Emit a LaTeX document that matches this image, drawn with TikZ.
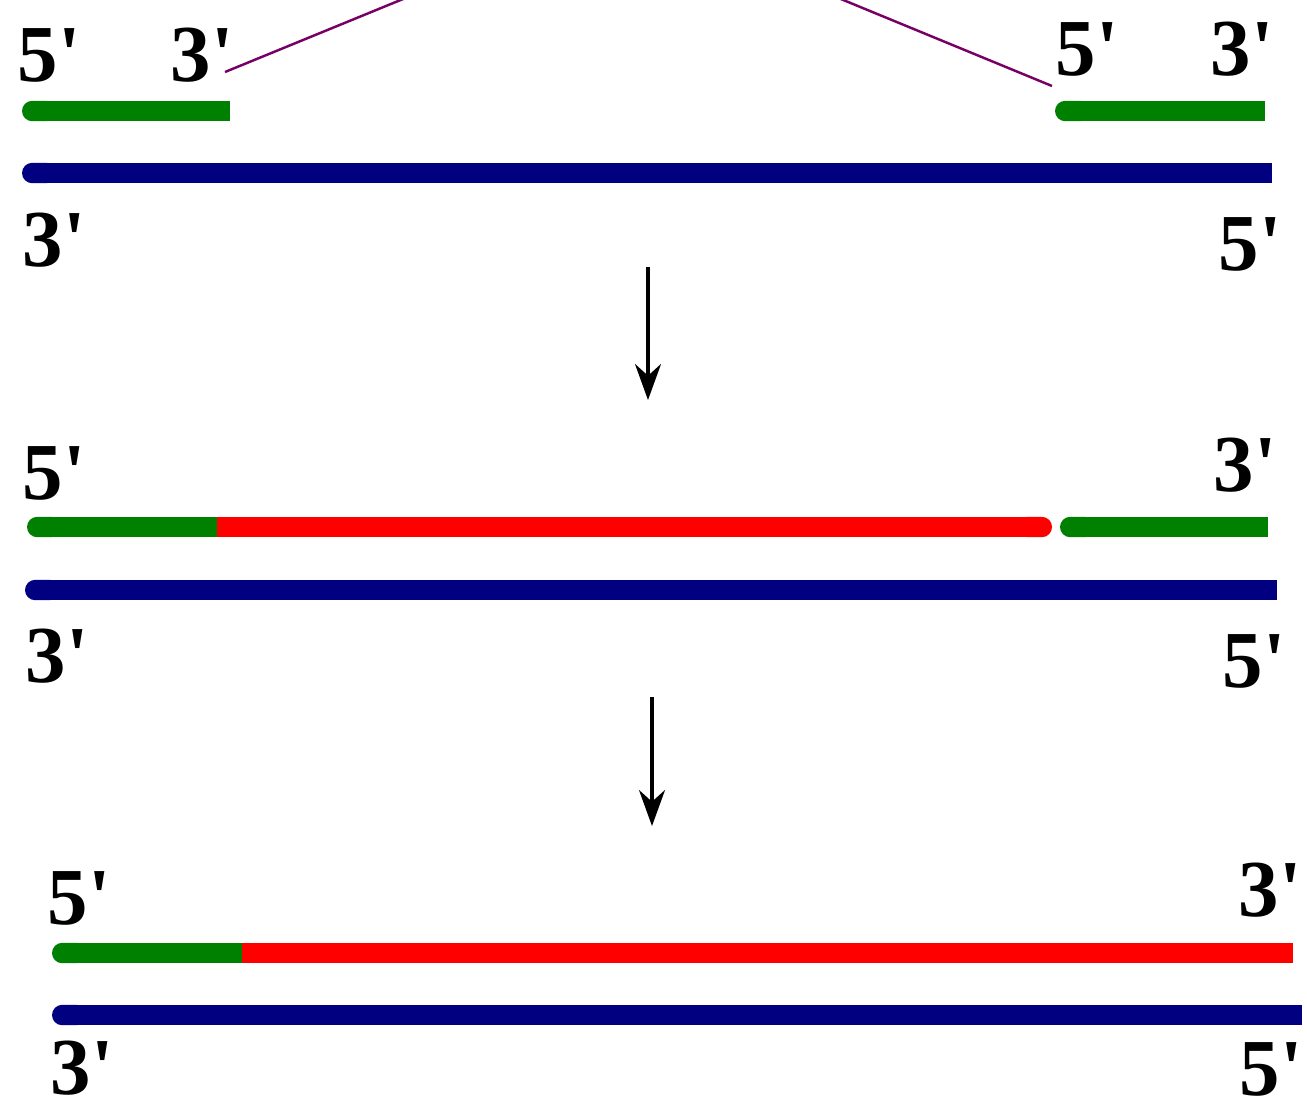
\documentclass[tikz,border=0pt]{standalone}
\usepackage{fontspec}
\newfontfamily\labelfont{Liberation Serif}
\usetikzlibrary{arrows.meta}
\definecolor{primer}{RGB}{0,128,0}
\definecolor{newdna}{RGB}{255,0,0}
\definecolor{template}{RGB}{0,0,128}
\definecolor{link}{RGB}{120,0,100}
\newcommand{\fivep}{5\textquotesingle}
\newcommand{\threep}{3\textquotesingle}
\tikzset{
  strand/.style={line width=5.8pt,line cap=butt,{Round Cap[]}-},
  primerline/.style={strand,draw=primer},
  newline/.style={strand,draw=newdna},
  templateline/.style={strand,draw=template},
  linkline/.style={draw=link,line width=0.7pt},
  flow/.style={-{Stealth[length=3.6mm,width=2.6mm]},line width=0.9pt},
  endlbl/.style={font=\labelfont\bfseries\fontsize{23}{23}\selectfont,
                 inner sep=0pt,anchor=base west}
}
\begin{document}
\begin{tikzpicture}[x=0.1mm,y=-0.1mm]
  \clip (0,0) rectangle (1307,1110);
  \fill[white] (0,0) rectangle (1307,1110);
  % primers annealed to the template
  \node[endlbl] (r1a) at (17,81) {\fivep};
  \node[endlbl] (r1b) at (170,81) {\threep};
  \node[endlbl] (r1c) at (1055,75) {\fivep};
  \node[endlbl] (r1d) at (1210,75) {\threep};
  \node[endlbl] (r1e) at (22,266) {\threep};
  \node[endlbl] (r1f) at (1218,270) {\fivep};
  \draw[primerline] (22,111) -- (230,111);
  \draw[primerline] (1055,111) -- (1265,111);
  \draw[templateline] (22,173) -- (1272,173);
  \coordinate (lk1) at (225,72);
  \coordinate (lk1top) at (425,-10);
  \coordinate (lk2) at (1052,86);
  \coordinate (lk2top) at (819,-10);
  \draw[linkline] (lk1) -- (lk1top);
  \draw[linkline] (lk2) -- (lk2top);
  \coordinate (a1s) at (648,267);
  \coordinate (a1e) at (648,400);
  \draw[flow] (a1s) -- (a1e);
  % extension up to the next primer
  \node[endlbl] (r2a) at (22,499) {\fivep};
  \node[endlbl] (r2b) at (1213,491) {\threep};
  \node[endlbl] (r2c) at (25,682) {\threep};
  \node[endlbl] (r2d) at (1222,687) {\fivep};
  \draw[primerline] (27,527) -- (218,527);
  \draw[newline,-{Round Cap[]}] (217,527) -- (1052,527);
  \draw[primerline] (1060,527) -- (1268,527);
  \draw[templateline] (25,590) -- (1277,590);
  \coordinate (a2s) at (652,697);
  \coordinate (a2e) at (652,826);
  \draw[flow] (a2s) -- (a2e);
  % joined strand
  \node[endlbl] (r3a) at (47,924) {\fivep};
  \node[endlbl] (r3b) at (1238,916) {\threep};
  \node[endlbl] (r3c) at (50,1094) {\threep};
  \node[endlbl] (r3d) at (1239,1095) {\fivep};
  \draw[primerline] (52,953) -- (243,953);
  \draw[newline,-] (242,953) -- (1293,953);
  \draw[templateline] (52,1015) -- (1302,1015);
\end{tikzpicture}
\end{document}
